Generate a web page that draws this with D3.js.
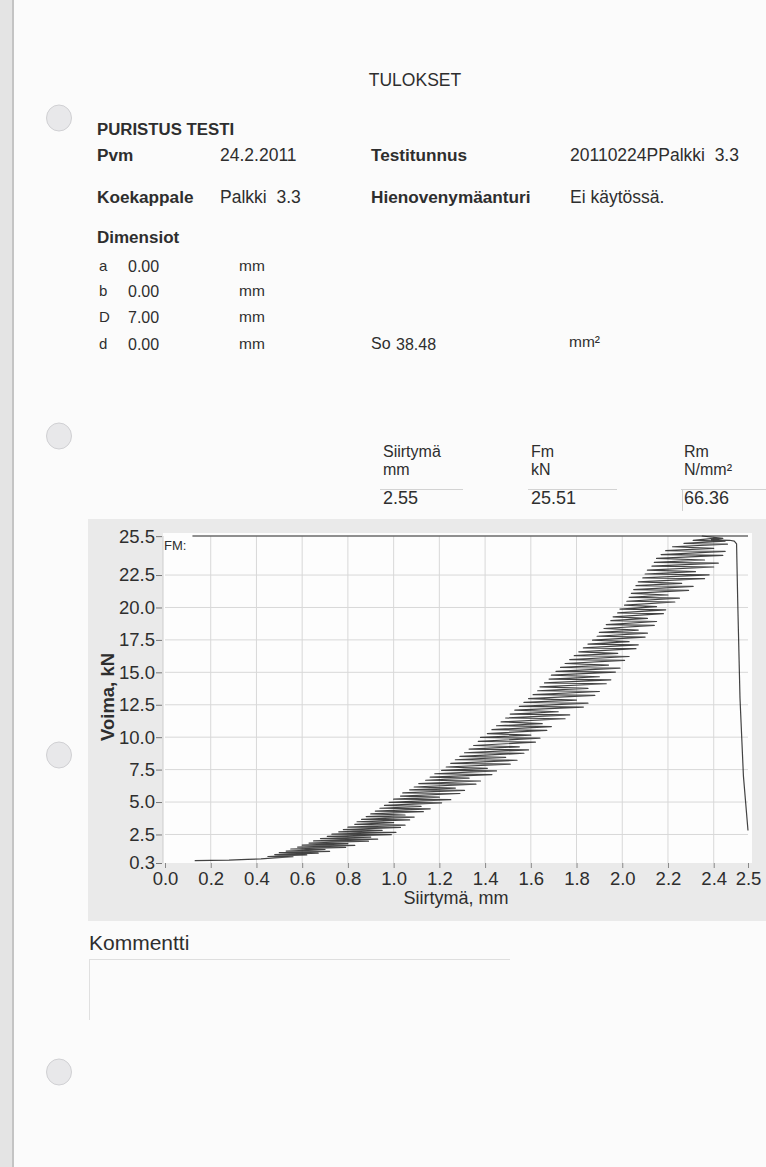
<!DOCTYPE html>
<html>
<head>
<meta charset="utf-8">
<script src="https://cdn.jsdelivr.net/npm/d3@7"></script>
<style>
  html, body { margin: 0; padding: 0; background: #fafafa; }
  svg { display: block; }
  text { font-family: "Liberation Sans", Arial, sans-serif; fill: #2e2e2e; }
</style>
</head>
<body>
<script>
// Test report values
const headerLabels = ["Pvm", "Koekappale"];
const headerValues = ["24.2.2011", "Palkki  3.3"];
const headerLabels2 = ["Testitunnus", "Hienovenymäanturi"];
const headerValues2 = ["20110224PPalkki  3.3", "Ei käytössä."];
const dimNames = ["a", "b", "D", "d"];
const dimValues = ["0.00", "0.00", "7.00", "0.00"];
const areaSo = "38.48";
const resultHeads = ["Siirtymä", "Fm", "Rm"];
const resultUnits = ["mm", "kN", "N/mm²"];
const resultValues = ["2.55", "25.51", "66.36"];

// Axis ticks
const xTickValues = [0, 0.2, 0.4, 0.6, 0.8, 1.0, 1.2, 1.4, 1.6, 1.8, 2.0, 2.2, 2.4, 2.55];
const xTickLabels = ["0.0", "0.2", "0.4", "0.6", "0.8", "1.0", "1.2", "1.4", "1.6", "1.8", "2.0", "2.2", "2.4", "2.5"];
const yTickValues = [0.3, 2.5, 5.0, 7.5, 10.0, 12.5, 15.0, 17.5, 20.0, 22.5, 25.5];
const fmForce = 25.51;
const maxDisp = 2.55;

// Force–displacement record [mm, kN]
const approach = [[0.13,0.48],[0.20,0.50],[0.28,0.52],[0.36,0.58],[0.42,0.62],[0.48,0.70]];
const loading = [
[0.56,0.78],[0.45,0.80],[0.62,0.92],[0.48,0.95],[0.67,1.06],[0.50,1.10],[0.72,1.20],[0.53,1.22],[0.70,1.34],[0.55,1.38],
[0.79,1.50],[0.58,1.53],[0.83,1.66],[0.60,1.68],[0.80,1.80],[0.63,1.84],[0.89,1.98],[0.65,2.00],[0.93,2.14],[0.68,2.18],
[0.90,2.30],[0.71,2.35],[0.99,2.48],[0.73,2.52],[1.01,2.66],[0.76,2.70],[0.95,2.82],[0.78,2.88],[1.03,3.04],[0.80,3.06],
[1.05,3.22],[0.83,3.28],[1.00,3.42],[0.84,3.48],[1.07,3.62],[0.86,3.66],[1.09,3.84],[0.88,3.88],[1.05,4.00],[0.90,4.08],
[1.13,4.26],[0.92,4.30],[1.16,4.48],[0.94,4.52],[1.12,4.66],[0.96,4.74],[1.21,4.94],[0.98,4.98],[1.25,5.18],[1.00,5.22],
[1.20,5.38],[1.03,5.46],[1.29,5.66],[1.04,5.70],[1.31,5.90],[1.07,5.94],[1.27,6.08],[1.09,6.16],[1.36,6.38],[1.11,6.42],
[1.38,6.62],[1.14,6.68],[1.33,6.84],[1.16,6.92],[1.43,7.12],[1.18,7.18],[1.45,7.40],[1.21,7.44],[1.41,7.60],[1.23,7.70],
[1.51,7.92],[1.25,7.98],[1.54,8.22],[1.27,8.26],[1.49,8.44],[1.29,8.52],[1.57,8.76],[1.31,8.80],[1.59,9.02],[1.33,9.08],
[1.55,9.26],[1.35,9.36],[1.62,9.62],[1.37,9.68],[1.64,9.92],[1.38,9.98],[1.60,10.16],[1.41,10.28],[1.67,10.52],[1.43,10.58],
[1.69,10.82],[1.45,10.88],[1.65,11.04],[1.47,11.18],[1.75,11.42],[1.49,11.48],[1.77,11.72],[1.51,11.78],[1.72,11.96],[1.53,12.08],
[1.83,12.32],[1.55,12.38],[1.85,12.62],[1.57,12.68],[1.80,12.86],[1.59,12.98],[1.88,13.22],[1.61,13.28],[1.90,13.52],[1.63,13.58],
[1.85,13.76],[1.64,13.88],[1.93,14.12],[1.66,14.18],[1.95,14.42],[1.68,14.48],[1.90,14.66],[1.69,14.78],[1.97,15.02],[1.71,15.08],
[1.99,15.32],[1.73,15.38],[1.94,15.56],[1.75,15.68],[2.01,15.92],[1.77,15.98],[2.03,16.22],[1.79,16.28],[1.98,16.46],[1.81,16.58],
[2.06,16.82],[1.83,16.88],[2.07,17.12],[1.85,17.18],[2.03,17.36],[1.87,17.48],[2.10,17.72],[1.89,17.78],[2.11,18.02],[1.90,18.08],
[2.07,18.26],[1.92,18.38],[2.14,18.62],[1.93,18.68],[2.15,18.92],[1.95,18.98],[2.11,19.16],[1.96,19.28],[2.18,19.52],[1.98,19.58],
[2.19,19.82],[1.99,19.88],[2.15,20.06],[2.01,20.18],[2.23,20.42],[2.02,20.48],[2.25,20.72],[2.03,20.78],[2.20,20.96],[2.04,21.08],
[2.29,21.32],[2.05,21.38],[2.31,21.62],[2.06,21.68],[2.26,21.86],[2.07,21.98],[2.36,22.22],[2.09,22.28],[2.38,22.52],[2.10,22.58],
[2.32,22.76],[2.11,22.88],[2.40,23.12],[2.13,23.18],[2.42,23.42],[2.14,23.48],[2.36,23.66],[2.15,23.78],[2.44,24.02],[2.17,24.08],
[2.45,24.32],[2.19,24.38],[2.40,24.56],[2.22,24.68],[2.46,24.88],[2.27,24.94],[2.45,25.12],[2.31,25.18],[2.42,25.36],[2.35,25.51],
[2.44,25.32],[2.39,25.22]
];
const fracture = [[2.47,25.18],[2.49,25.12],[2.50,24.90],[2.505,20.5],[2.515,13.0],[2.53,7.0],[2.55,2.8]];

const W = 766, H = 1167;
const svg = d3.select("body").append("svg").attr("width", W).attr("height", H);

function label(x, y, str, size, opts = {}) {
  return svg.append("text").attr("x", x).attr("y", y).attr("font-size", size)
    .attr("font-weight", opts.bold ? "bold" : null)
    .attr("fill", opts.fill || "#2e2e2e")
    .attr("text-anchor", opts.anchor || null)
    .style("white-space", "pre").text(str);
}

// Paper
svg.append("rect").attr("width", W).attr("height", H).attr("fill", "#fbfbfb");
svg.append("rect").attr("x", 0).attr("y", 0).attr("width", 12).attr("height", H).attr("fill", "#e4e4e4");
svg.append("line").attr("x1", 13).attr("x2", 13).attr("y1", 0).attr("y2", H).attr("stroke", "#c4c4c4").attr("stroke-width", 2);

// Punch holes
const holes = [118, 436, 755, 1072];
svg.selectAll("ellipse.hole").data(holes).join("ellipse")
  .attr("class", "hole").attr("cx", 59).attr("cy", d => d).attr("rx", 12.5).attr("ry", 13)
  .attr("fill", "#e8e8ea").attr("stroke", "#d0d0d3").attr("stroke-width", 1);

// Title and header
label(415, 86, "TULOKSET", 17.5, { anchor: "middle", fill: "#333" });
label(97, 135, "PURISTUS TESTI", 16.8, { bold: true, fill: "#3a3a3a" });

const rowY = [161, 203];
rowY.forEach((ry, i) => {
  label(97, ry, headerLabels[i], 17.2, { bold: true, fill: "#3a3a3a" });
  label(220, ry, headerValues[i], 17.5, { fill: "#4a4a4a" });
  label(371, ry, headerLabels2[i], 17.2, { bold: true, fill: "#3a3a3a" });
  label(570, ry, headerValues2[i], 17.5, { fill: "#4a4a4a" });
});
label(97, 243, "Dimensiot", 17, { bold: true, fill: "#3a3a3a" });

const dimY = [271, 296, 322, 349];
dimNames.forEach((n, i) => {
  label(99, dimY[i], n, 15, { fill: "#555" });
  label(128, dimY[i] + 1, dimValues[i], 16, { fill: "#555" });
  label(239, dimY[i], "mm", 15.5, { fill: "#444" });
});
label(371, dimY[3], "So", 16, { fill: "#333" });
label(396, dimY[3] + 1, areaSo, 16, { fill: "#555" });
label(569, dimY[3] - 2, "mm²", 15.5, { fill: "#444" });

// Results table
const colX = [383, 531, 684];
const lineEnd = [463, 617, 766];
resultHeads.forEach((h, i) => {
  label(colX[i], 457, h, 16, { fill: "#555" });
  label(colX[i], 475, resultUnits[i], 16, { fill: "#555" });
  label(colX[i], 504, resultValues[i], 18, { fill: "#333" });
  svg.append("line").attr("x1", colX[i] - 3).attr("x2", lineEnd[i])
    .attr("y1", 489.5).attr("y2", 489.5).attr("stroke", "#d3d3d3");
});
svg.append("line").attr("x1", colX[2] - 1.5).attr("x2", colX[2] - 1.5).attr("y1", 490).attr("y2", 511).attr("stroke", "#cfcfcf");

// Chart panel
svg.append("rect").attr("x", 88).attr("y", 519).attr("width", 678).attr("height", 402).attr("fill", "#eaeaea");

const x = d3.scaleLinear().domain([0, maxDisp]).range([165, 748]);
const y = d3.scaleLinear().domain([0.3, fmForce]).range([863, 536]);

svg.append("rect").attr("x", x(0) - 2).attr("y", y(fmForce) - 3)
  .attr("width", x(maxDisp) - x(0) + 6).attr("height", y(0.3) - y(fmForce) + 3).attr("fill", "#fdfdfd");

// Grid
const gridX = xTickValues.filter(v => v > 0 && v < 2.5);
const gridY = yTickValues.filter(v => v > 1 && v < 25);
svg.append("g").selectAll("line").data(gridX).join("line")
  .attr("x1", d => x(d)).attr("x2", d => x(d)).attr("y1", y(fmForce)).attr("y2", y(0.3))
  .attr("stroke", "#d8d8d8").attr("stroke-width", 1);
svg.append("g").selectAll("line").data(gridY).join("line")
  .attr("x1", x(0)).attr("x2", x(maxDisp)).attr("y1", d => y(d)).attr("y2", d => y(d))
  .attr("stroke", "#d8d8d8").attr("stroke-width", 1);
svg.append("line").attr("x1", x(0) - 2).attr("x2", x(0) - 2).attr("y1", y(fmForce)).attr("y2", y(0.3))
  .attr("stroke", "#cdcdcd");

// Axes
const yAxis = d3.axisLeft(y).tickValues(yTickValues).tickFormat(d3.format(".1f")).tickSize(6).tickPadding(1);
const gy = svg.append("g").attr("transform", `translate(${x(0) - 3},0)`).call(yAxis);
gy.select(".domain").remove();
gy.selectAll(".tick line").attr("stroke", "#777");
gy.selectAll(".tick text").attr("font-size", 18.5).attr("fill", "#333")
  .style("font-family", "'Liberation Sans', Arial, sans-serif");

const xAxis = d3.axisBottom(x).tickValues(xTickValues).tickFormat((d, i) => xTickLabels[i]).tickSize(5).tickPadding(4);
const gx = svg.append("g").attr("transform", `translate(0,${y(0.3)})`).call(xAxis);
gx.select(".domain").remove();
gx.selectAll(".tick line").attr("stroke", "#888");
gx.selectAll(".tick text").attr("font-size", 18.5).attr("fill", "#333")
  .style("font-family", "'Liberation Sans', Arial, sans-serif");

svg.append("text").attr("transform", "translate(114,697) rotate(-90)").attr("text-anchor", "middle")
  .attr("font-size", 18.5).attr("font-weight", "bold").attr("fill", "#3a3a3a").text("Voima, kN");
label(456, 904, "Siirtymä, mm", 18, { anchor: "middle", fill: "#333" });

// Maximum force marker
svg.append("line").attr("x1", x(0.12)).attr("x2", x(maxDisp)).attr("y1", y(fmForce)).attr("y2", y(fmForce))
  .attr("stroke", "#6a6a6a").attr("stroke-width", 1.3);
label(x(0) - 1, y(fmForce) + 14, "FM:", 13, { fill: "#555" });

// Curve
const curve = approach.concat(loading, fracture);
const line = d3.line().x(d => x(d[0])).y(d => y(d[1]));
svg.append("path").datum(curve).attr("d", line).attr("fill", "none")
  .attr("stroke", "#222").attr("stroke-width", 1.2).attr("stroke-linejoin", "round").attr("opacity", 0.85);

// Comment field
label(89, 950, "Kommentti", 21, { fill: "#333" });
svg.append("line").attr("x1", 89).attr("x2", 510).attr("y1", 959.5).attr("y2", 959.5).attr("stroke", "#dedede");
svg.append("line").attr("x1", 89.5).attr("x2", 89.5).attr("y1", 959).attr("y2", 1020).attr("stroke", "#e0e0e0");
</script>
</body>
</html>
